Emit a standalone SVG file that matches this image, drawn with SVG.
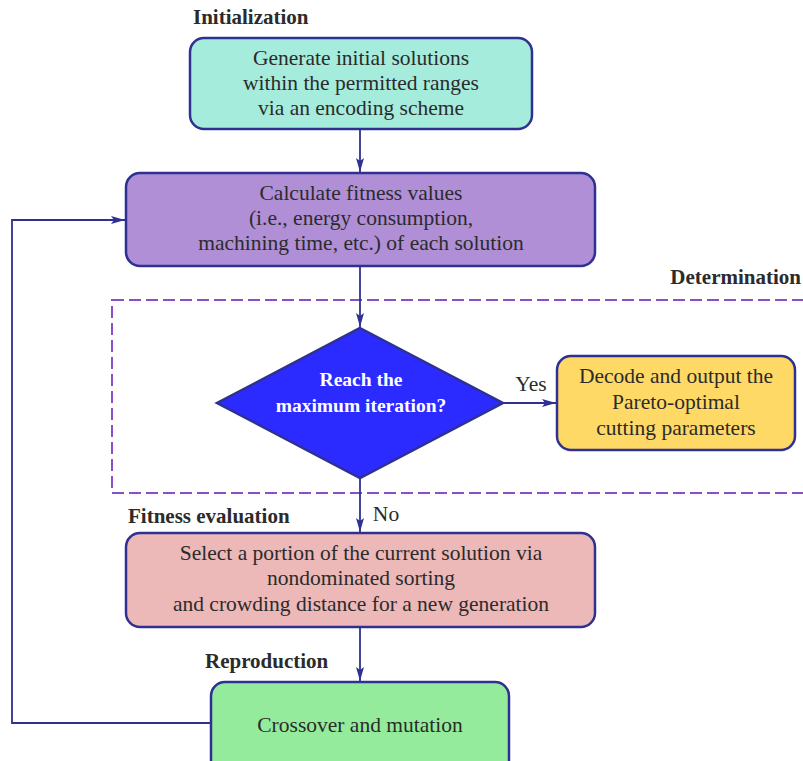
<svg xmlns="http://www.w3.org/2000/svg" width="803" height="761" viewBox="0 0 803 761">
  <style>
    .box { stroke: #2E3192; stroke-width: 2.5; }
    .txt { font-family: "Liberation Serif", "Times New Roman", serif; font-size: 21.5px; fill: #2b2b2b; text-anchor: middle; }
    .lbl { font-family: "Liberation Serif", "Times New Roman", serif; font-size: 21px; font-weight: bold; fill: #2b2b2b; }
    .dec { font-family: "Liberation Serif", "Times New Roman", serif; font-size: 19.5px; font-weight: bold; fill: #ffffff; text-anchor: middle; }
    .wire { fill: none; stroke: #2E3192; stroke-width: 1.8; }
    .zone { fill: none; stroke: #8A4FC4; stroke-width: 2; stroke-dasharray: 12 5; }
  </style>
  <defs>
    <marker id="arrow" viewBox="0 0 14 8" refX="14" refY="4" markerWidth="14" markerHeight="8" markerUnits="userSpaceOnUse" orient="auto">
      <path d="M0,0 L14,4 L0,8 L3,4 Z" fill="#2E3192"/>
    </marker>
  </defs>
  <rect width="803" height="761" fill="#ffffff"/>

  <!-- determination zone -->
  <rect class="zone" x="112" y="300" width="700" height="193"/>

  <!-- stage labels -->
  <text class="lbl" x="193" y="24">Initialization</text>
  <text class="lbl" x="801" y="284" text-anchor="end">Determination</text>
  <text class="lbl" x="128" y="523">Fitness evaluation</text>
  <text class="lbl" x="205" y="668">Reproduction</text>

  <!-- connectors -->
  <g id="connectors">
    <line class="wire" x1="360" y1="130" x2="360" y2="172" marker-end="url(#arrow)"/>
    <line class="wire" x1="360" y1="267" x2="360" y2="327" marker-end="url(#arrow)"/>
    <line class="wire" x1="503" y1="403" x2="556" y2="403" marker-end="url(#arrow)"/>
    <line class="wire" x1="360" y1="478" x2="360" y2="532" marker-end="url(#arrow)"/>
    <line class="wire" x1="360" y1="628" x2="360" y2="681" marker-end="url(#arrow)"/>
    <polyline class="wire" points="211,723 12,723 12,220 125,220" marker-end="url(#arrow)"/>
    <text class="txt" x="531" y="391">Yes</text>
    <text class="txt" x="386" y="521">No</text>
  </g>

  <g id="init">
    <rect class="box" x="190" y="38" width="342" height="91" rx="14" fill="#A6ECDC"/>
    <text class="txt" x="361" y="65">Generate initial solutions</text>
    <text class="txt" x="361" y="90">within the permitted ranges</text>
    <text class="txt" x="361" y="115">via an encoding scheme</text>
  </g>

  <g id="fitness">
    <rect class="box" x="126" y="173" width="469" height="93" rx="14" fill="#B08FD6"/>
    <text class="txt" x="361" y="200">Calculate fitness values</text>
    <text class="txt" x="361" y="225">(i.e., energy consumption,</text>
    <text class="txt" x="361" y="250">machining time, etc.) of each solution</text>
  </g>

  <g id="decision">
    <polygon class="box" points="360,328 503,403 360,478 217,403" fill="#2B2BFF"/>
    <text class="dec" x="361" y="386">Reach the</text>
    <text class="dec" x="361" y="412">maximum iteration?</text>
  </g>

  <g id="output">
    <rect class="box" x="557" y="356" width="238" height="94" rx="14" fill="#FFD966"/>
    <text class="txt" x="676" y="383">Decode and output the</text>
    <text class="txt" x="676" y="409">Pareto-optimal</text>
    <text class="txt" x="676" y="435">cutting parameters</text>
  </g>

  <g id="selection">
    <rect class="box" x="126" y="533" width="469" height="94" rx="14" fill="#EDB8B8"/>
    <text class="txt" x="361" y="560">Select a portion of the current solution via</text>
    <text class="txt" x="361" y="585">nondominated sorting</text>
    <text class="txt" x="361" y="611">and crowding distance for a new generation</text>
  </g>

  <g id="reproduction">
    <rect class="box" x="211" y="682" width="298" height="95" rx="14" fill="#93EB9B"/>
    <text class="txt" x="360" y="732">Crossover and mutation</text>
  </g>
</svg>
